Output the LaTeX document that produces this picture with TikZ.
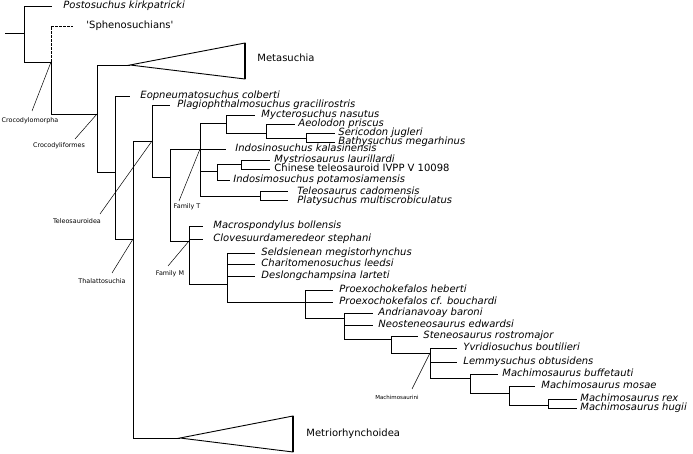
\documentclass[tikz,border=0pt]{standalone}
\usepackage{fontspec}
\setsansfont{DejaVu Sans}
\begin{document}
\begin{tikzpicture}[x=1pt,y=-1pt,line width=0.9pt,
  sp/.style={anchor=west,inner sep=0pt,font=\sffamily\itshape\fontsize{10}{12}\selectfont,text height=7pt,text depth=1.5pt},
  up/.style={sp,font=\sffamily\fontsize{10}{12}\selectfont},
  ann/.style={inner sep=0pt,font=\sffamily\fontsize{6.4}{7.5}\selectfont},
  lead/.style={line width=0.5pt},
  thickedge/.style={line width=2.4pt}]
\useasboundingbox (0,0) rectangle (693,454);

% ---------- internal nodes ----------
\coordinate (stem) at (5,33);
\coordinate (root) at (24,33);
\coordinate (n1) at (51,62);
\coordinate (n2) at (97,114);
\coordinate (n3) at (115,172);
\coordinate (n4) at (133,239);
\coordinate (n5) at (152,141);
\coordinate (n6) at (170,177);
\coordinate (n7) at (200,149);
\coordinate (nA) at (226,123);
\coordinate (nA2) at (266,133);
\coordinate (nA3) at (306,138);
\coordinate (nB) at (217,171);
\coordinate (nB2) at (241,164);
\coordinate (nC) at (260,196);
\coordinate (n8) at (189,241);
\coordinate (nD) at (227,284);
\coordinate (nE) at (305,302);
\coordinate (nF) at (344,318);
\coordinate (nG) at (391,339);
\coordinate (nH) at (430,353);
\coordinate (nI) at (470,378);
\coordinate (nJ) at (509,393);
\coordinate (nK) at (548,405);

% ---------- leaves ----------
\node[sp] (post) at (63,6) {Postosuchus kirkpatricki};      \coordinate (post-e) at (52,6);
\node[up] (sphen) at (86,26) {\textquotesingle Sphenosuchians\textquotesingle}; \coordinate (sphen-e) at (73,26);
\node[sp] (eopn) at (140,96) {Eopneumatosuchus colberti};   \coordinate (eopn-e) at (130,96);
\node[sp] (plag) at (177,105) {Plagiophthalmosuchus gracilirostris}; \coordinate (plag-e) at (170,105);
\node[sp] (myct) at (261,115) {Mycterosuchus nasutus};      \coordinate (myct-e) at (255,115);
\node[sp] (aeol) at (298,124) {Aeolodon priscus};           \coordinate (aeol-e) at (295,124);
\node[sp] (seri) at (338,133) {Sericodon jugleri};          \coordinate (seri-e) at (335,133);
\node[sp] (bath) at (338,142) {Bathysuchus megarhinus};     \coordinate (bath-e) at (335,142);
\node[sp] (indosin) at (235,149) {Indosinosuchus kalasinensis}; \coordinate (indosin-e) at (226,149);
\node[sp] (myst) at (274,160) {Mystriosaurus laurillardi};  \coordinate (myst-e) at (270,160);
\node[up] (chin) at (274,169) {Chinese teleosauroid IVPP V 10098}; \coordinate (chin-e) at (270,169);
\node[sp] (indosim) at (233,180) {Indosimosuchus potamosiamensis}; \coordinate (indosim-e) at (230,180);
\node[sp] (tele) at (297,191.5) {Teleosaurus cadomensis};   \coordinate (tele-e) at (288,191.5);
\node[sp] (platy) at (297,200.5) {Platysuchus multiscrobiculatus}; \coordinate (platy-e) at (288,200.5);
\node[sp] (macro) at (213,226) {Macrospondylus bollensis};  \coordinate (macro-e) at (203,226);
\node[sp] (clov) at (213,239) {Clovesuurdameredeor stephani}; \coordinate (clov-e) at (203,239);
\node[sp] (seld) at (261,253) {Seldsienean megistorhynchus}; \coordinate (seld-e) at (255,253);
\node[sp] (char) at (261,264) {Charitomenosuchus leedsi};   \coordinate (char-e) at (255,264);
\node[sp] (desl) at (261,276) {Deslongchampsina larteti};   \coordinate (desl-e) at (255,276);
\node[sp] (pheb) at (339,290) {Proexochokefalos heberti};   \coordinate (pheb-e) at (333,290);
\node[sp] (pbou) at (339,302) {Proexochokefalos cf. bouchardi}; \coordinate (pbou-e) at (333,302);
\node[sp] (andr) at (378,313) {Andrianavoay baroni};        \coordinate (andr-e) at (373,313);
\node[sp] (neos) at (378,325) {Neosteneosaurus edwardsi};   \coordinate (neos-e) at (373,325);
\node[sp] (sten) at (423,336) {Steneosaurus rostromajor};   \coordinate (sten-e) at (418,336);
\node[sp] (yvri) at (463,348) {Yvridiosuchus boutilieri};   \coordinate (yvri-e) at (457,348);
\node[sp] (lemm) at (463,362) {Lemmysuchus obtusidens};     \coordinate (lemm-e) at (457,362);
\node[sp] (mbuf) at (502,374) {Machimosaurus buffetauti};   \coordinate (mbuf-e) at (498,374);
\node[sp] (mmos) at (541,386) {Machimosaurus mosae};        \coordinate (mmos-e) at (535,386);
\node[sp] (mrex) at (580,399) {Machimosaurus rex};          \coordinate (mrex-e) at (577,399);
\node[sp] (mhug) at (580,408) {Machimosaurus hugii};        \coordinate (mhug-e) at (577,408);

% ---------- collapsed clades ----------
\coordinate (metaTip) at (130,65);
\coordinate (metaA) at (245,43);
\coordinate (metaB) at (245,79);
\node[up] (meta) at (257,59) {Metasuchia};
\coordinate (metrTip) at (180,438);
\coordinate (metrA) at (293,416);
\coordinate (metrB) at (293,452);
\node[up] (metr) at (306,434) {Metriorhynchoidea};

% ---------- branches ----------
\draw (stem) -- (root);
\draw[dash pattern=on 2.5pt off 1.5pt] (n1) |- (sphen-e);
\foreach \p/\c in {root/post-e,root/n1,n1/n2,n2/metaTip,n2/n3,
    n3/eopn-e,n3/n4,n4/n5,n4/metrTip,n5/plag-e,n5/n6,n6/n7,n6/n8,
    n7/nA,n7/indosin-e,n7/nB,n7/nC,
    nA/myct-e,nA/nA2,nA2/aeol-e,nA2/nA3,nA3/seri-e,nA3/bath-e,
    nB/nB2,nB/indosim-e,nB2/myst-e,nB2/chin-e,nC/tele-e,nC/platy-e,
    n8/macro-e,n8/clov-e,n8/nD,
    nD/seld-e,nD/char-e,nD/desl-e,nD/nE,
    nE/pheb-e,nE/pbou-e,nE/nF,
    nF/andr-e,nF/neos-e,nF/nG,
    nG/sten-e,nG/nH,
    nH/yvri-e,nH/lemm-e,nH/nI,
    nI/mbuf-e,nI/nJ,nJ/mmos-e,nJ/nK,nK/mrex-e,nK/mhug-e}
  \draw (\p) |- (\c);

\draw (metaTip) -- (metaA) -- (metaB) -- cycle;
\draw[thickedge] (metaA) -- (metaB);
\draw (metrTip) -- (metrA) -- (metrB) -- cycle;
\draw[thickedge] (metrA) -- (metrB);

% ---------- clade annotations ----------
\node[ann] (lCm) at (30,121) {Crocodylomorpha};   \coordinate (eCm) at (32,111);
\node[ann] (lCf) at (59,146) {Crocodyliformes};   \coordinate (eCf) at (75,139);
\node[ann] (lTe) at (77,221) {Teleosauroidea};    \coordinate (eTe) at (100,214);
\node[ann] (lTh) at (102,281) {Thalattosuchia};   \coordinate (eTh) at (112,273);
\node[ann] (lFT) at (187,207) {Family T};         \coordinate (eFT) at (179,201);
\node[ann] (lFM) at (170,274) {Family M};         \coordinate (eFM) at (168,266);
\node[ann,font=\sffamily\fontsize{5.5}{6.5}\selectfont] (lMa) at (397,397) {Machimosaurini}; \coordinate (eMa) at (412,389);
\draw[lead] (n1) -- (eCm);
\draw[lead] (n2) -- (eCf);
\draw[lead] (n5) -- (eTe);
\draw[lead] (n4) -- (eTh);
\draw[lead] (n7) -- (eFT);
\draw[lead] (n8) -- (eFM);
\draw[lead] (nH) -- (eMa);
\end{tikzpicture}
\end{document}
